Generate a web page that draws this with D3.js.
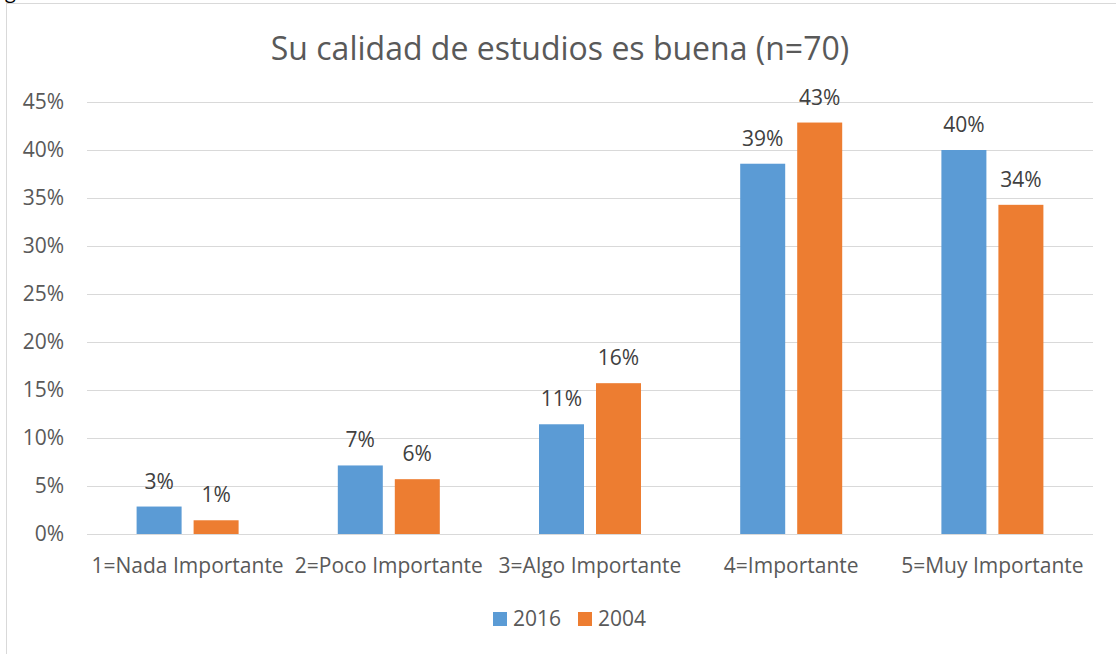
<!DOCTYPE html>
<html lang="es">
<head>
    <meta charset="UTF-8">
    <title>Su calidad de estudios es buena</title>
    <script src="https://d3js.org/d3.v7.min.js"></script>
    <style>
        body { margin: 0; background: #fff; }
        svg { display: block; font-family: "Open Sans", sans-serif; }
        .grid line { stroke: #d9d9d9; stroke-width: 1px; }
        .axis-text { fill: #595959; }
        .value-label { fill: #404040; }
    </style>
</head>
<body>
    <svg width="1116" height="654"></svg>
    <script>
        // Data (n=70)
        const categories = ["1=Nada Importante", "2=Poco Importante", "3=Algo Importante", "4=Importante", "5=Muy Importante"];
        const seriesNames = ["2016", "2004"];
        const values2016 = [2.86, 7.14, 11.43, 38.57, 40.0];
        const values2004 = [1.43, 5.71, 15.71, 42.86, 34.29];
        const yTicks = [0, 5, 10, 15, 20, 25, 30, 35, 40, 45];
        const colors = ["#5b9bd5", "#ed7d31"];

        const svg = d3.select("svg");

        // stray caption glyph cut off at the top of the page
        svg.append("text")
            .attr("x", 5)
            .attr("y", -2)
            .style("font-size", "20px")
            .style("fill", "#000")
            .text("g");

        // chart border
        svg.append("rect")
            .attr("x", 6.5)
            .attr("y", 3.5)
            .attr("width", 1200)
            .attr("height", 700)
            .attr("fill", "none")
            .attr("stroke", "#d9d9d9");

        const margin = { top: 102, left: 87, right: 23, bottom: 120 };
        const width = 1116 - margin.left - margin.right,
            height = 654 - margin.top - margin.bottom;
        const g = svg.append("g").attr("transform", "translate(" + margin.left + "," + margin.top + ")");

        const x = d3.scaleBand().domain(categories).range([0, width]);
        const y = d3.scaleLinear().domain([0, 45]).range([height, 0]);

        const barW = 45, gap = 12;

        // gridlines
        g.append("g").attr("class", "grid")
            .selectAll("line")
            .data(yTicks)
            .join("line")
            .attr("x1", 0)
            .attr("x2", width)
            .attr("y1", d => Math.round(y(d)) + 0.5)
            .attr("y2", d => Math.round(y(d)) + 0.5);

        // y tick labels
        g.append("g")
            .selectAll("text")
            .data(yTicks)
            .join("text")
            .attr("class", "axis-text")
            .attr("x", -23)
            .attr("y", d => y(d))
            .attr("dy", "0.35em")
            .attr("text-anchor", "end")
            .style("font-size", "21px")
            .text(d => d + "%");

        // bars
        const series = [values2016, values2004];
        series.forEach((vals, si) => {
            const off = si === 0 ? -gap / 2 - barW : gap / 2;
            const bars = g.append("g");
            bars.selectAll("rect")
                .data(vals)
                .join("rect")
                .attr("x", (d, i) => x(categories[i]) + x.bandwidth() / 2 + off)
                .attr("y", d => y(d))
                .attr("width", barW)
                .attr("height", d => height - y(d))
                .attr("fill", colors[si]);

            bars.selectAll("text")
                .data(vals)
                .join("text")
                .attr("class", "value-label")
                .attr("x", (d, i) => x(categories[i]) + x.bandwidth() / 2 + off + barW / 2)
                .attr("y", d => y(d) - 18)
                .attr("text-anchor", "middle")
                .style("font-size", "21px")
                .text(d => Math.round(d) + "%");
        });

        // category labels
        g.append("g")
            .selectAll("text")
            .data(categories)
            .join("text")
            .attr("class", "axis-text")
            .attr("x", d => x(d) + x.bandwidth() / 2)
            .attr("y", height + 39)
            .attr("text-anchor", "middle")
            .style("font-size", "21px")
            .text(d => d);

        // title
        svg.append("text")
            .attr("x", 560)
            .attr("y", 60)
            .attr("text-anchor", "middle")
            .style("font-size", "32px")
            .style("fill", "#595959")
            .text("Su calidad de estudios es buena (n=70)");

        // legend
        const legend = svg.append("g").attr("transform", "translate(493,612)");
        const items = legend.selectAll("g")
            .data(seriesNames)
            .join("g")
            .attr("transform", (d, i) => "translate(" + (i * 85) + ",0)");
        items.append("rect")
            .attr("width", 14)
            .attr("height", 14)
            .attr("fill", (d, i) => colors[i]);
        items.append("text")
            .attr("class", "axis-text")
            .attr("x", 20)
            .attr("y", 14)
            .style("font-size", "21px")
            .text(d => d);
    </script>
</body>
</html>
